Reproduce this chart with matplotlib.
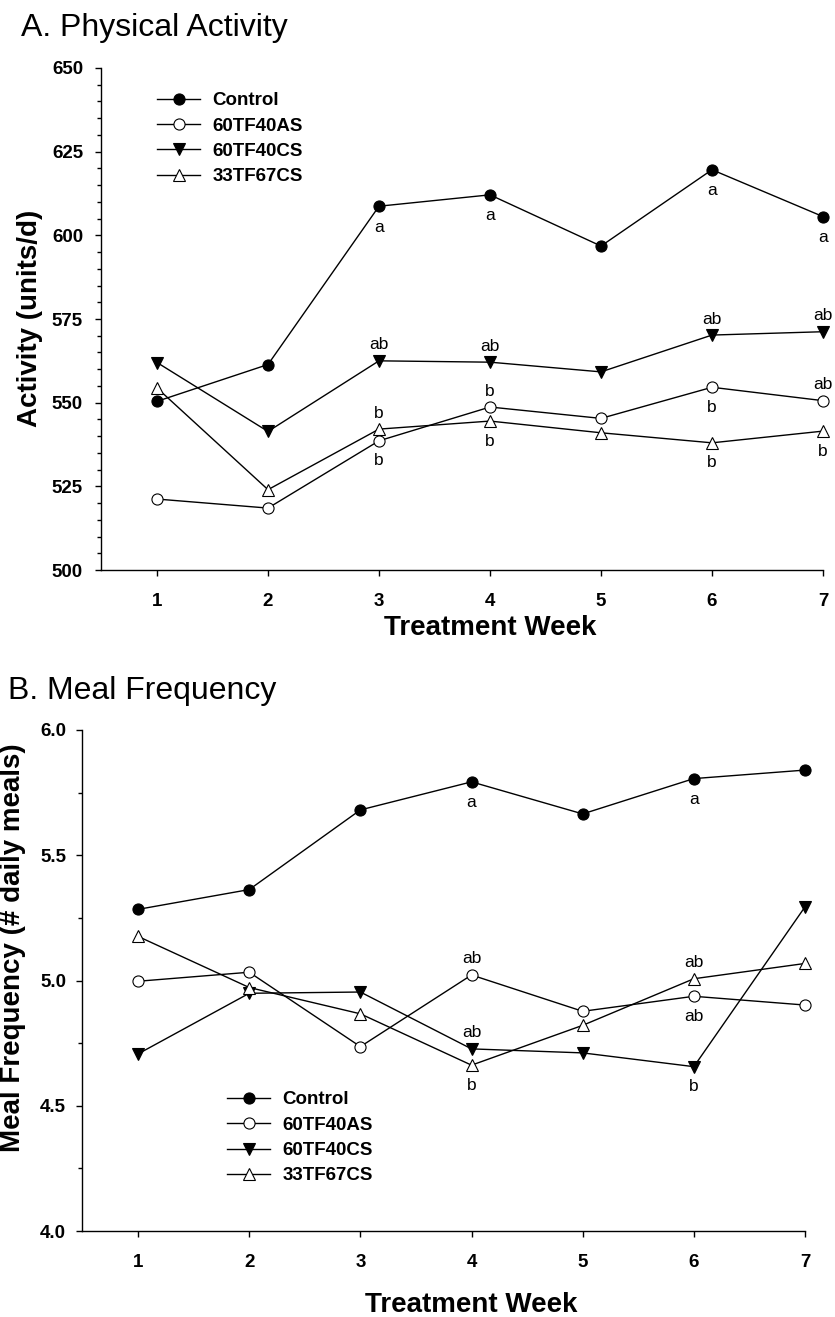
"""
Weekly physical activity and meal frequency by diet group, two stacked panels.
"""

import matplotlib.pyplot as plt
from matplotlib.ticker import MultipleLocator, FormatStrFormatter
from matplotlib.transforms import blended_transform_factory

weeks = [1, 2, 3, 4, 5, 6, 7]
groups = ['Control', '60TF40AS', '60TF40CS', '33TF67CS']

# Panel A - physical activity (units/d)
activity_control = [550.4, 561.4, 608.7, 612.1, 596.8, 619.6, 605.6]
activity_60tf40as = [521.2, 518.5, 538.6, 548.7, 545.3, 554.6, 550.6]
activity_60tf40cs = [562.0, 541.4, 562.5, 562.1, 559.2, 570.2, 571.2]
activity_33tf67cs = [554.4, 524.0, 542.1, 544.5, 541.0, 538.0, 541.5]

# Panel B - meal frequency (# daily meals)
meals_control = [5.284, 5.363, 5.681, 5.793, 5.665, 5.806, 5.840]
meals_60tf40as = [4.997, 5.033, 4.736, 5.022, 4.877, 4.937, 4.902]
meals_60tf40cs = [4.707, 4.949, 4.954, 4.727, 4.711, 4.656, 5.294]
meals_33tf67cs = [5.176, 4.972, 4.867, 4.662, 4.821, 5.007, 5.068]

# Significance letters: (week, group, letter, above/below the point)
activity_letters = [
    (3, 'Control', 'a', 'below'), (3, '60TF40CS', 'ab', 'above'),
    (3, '33TF67CS', 'b', 'above'), (3, '60TF40AS', 'b', 'below'),
    (4, 'Control', 'a', 'below'), (4, '60TF40CS', 'ab', 'above'),
    (4, '60TF40AS', 'b', 'above'), (4, '33TF67CS', 'b', 'below'),
    (6, 'Control', 'a', 'below'), (6, '60TF40CS', 'ab', 'above'),
    (6, '60TF40AS', 'b', 'below'), (6, '33TF67CS', 'b', 'below'),
    (7, 'Control', 'a', 'below'), (7, '60TF40CS', 'ab', 'above'),
    (7, '60TF40AS', 'ab', 'above'), (7, '33TF67CS', 'b', 'below'),
]
meals_letters = [
    (4, 'Control', 'a', 'below'), (4, '60TF40AS', 'ab', 'above'),
    (4, '60TF40CS', 'ab', 'above'), (4, '33TF67CS', 'b', 'below'),
    (6, 'Control', 'a', 'below'), (6, '33TF67CS', 'ab', 'above'),
    (6, '60TF40AS', 'ab', 'below'), (6, '60TF40CS', 'b', 'below'),
]

# marker, face colour, size for each group
styles = {
    'Control': ('o', 'black', 8),
    '60TF40AS': ('o', 'white', 8),
    '60TF40CS': ('v', 'black', 9),
    '33TF67CS': ('^', 'white', 9),
}

plt.rcParams['font.family'] = ['Liberation Sans', 'DejaVu Sans']


def draw_panel(ax, series, letters, ylim, major, minor, ylabel, ylabel_xy,
               xlabel_y, legend_xy, ypad):
    for name in groups:
        marker, face, size = styles[name]
        ax.plot(weeks, series[name], color='black', lw=1.0, marker=marker,
                markersize=size, markerfacecolor=face, markeredgecolor='black',
                markeredgewidth=0.8, label=name, clip_on=False, zorder=3)

    # letters sit a fixed pixel distance above or below their point
    for week, name, letter, where in letters:
        value = series[name][weeks.index(week)]
        if where == 'above':
            dy = 16
        else:
            dy = -21 if letter == 'a' else -20
        ax.annotate(letter, xy=(week, value), xytext=(0, dy),
                    textcoords='offset pixels', ha='center', va='center',
                    fontsize=12.5)

    ax.set_xlim(0.4955, 7)
    ax.set_ylim(*ylim)
    ax.set_xticks(weeks)
    ax.yaxis.set_major_locator(MultipleLocator(major))
    ax.yaxis.set_minor_locator(MultipleLocator(minor))
    ax.spines['top'].set_visible(False)
    ax.spines['right'].set_visible(False)
    for side in ['left', 'bottom']:
        ax.spines[side].set_linewidth(1.0)

    ax.tick_params(which='major', direction='out', length=4.3, width=1.0,
                   labelsize=13.5)
    ax.tick_params(axis='x', which='major', pad=12)
    ax.tick_params(axis='y', which='major', pad=ypad)
    ax.tick_params(axis='y', which='minor', direction='out', length=2.9,
                   width=1.0)
    for lbl in ax.get_xticklabels() + ax.get_yticklabels():
        lbl.set_fontweight('bold')

    ax.set_xlabel('Treatment Week', fontsize=20, fontweight='bold')
    ax.xaxis.set_label_coords(4, xlabel_y,
                              transform=blended_transform_factory(ax.transData, ax.transAxes))
    ax.xaxis.label.set_va('center')
    ax.set_ylabel(ylabel, fontsize=20, fontweight='bold')
    ax.yaxis.set_label_coords(*ylabel_xy)
    ax.yaxis.label.set_va('center')

    ax.legend(loc='upper left', bbox_to_anchor=legend_xy, frameon=False,
              prop={'weight': 'bold', 'size': 13.5}, handlelength=2.3,
              handletextpad=0.65, labelspacing=0.44, borderpad=0,
              borderaxespad=0)


fig = plt.figure(figsize=(8.35, 13.17), dpi=100)

ax_a = fig.add_axes([101 / 835, 1 - 570 / 1317, 722 / 835, 502 / 1317])
activity = dict(zip(groups, [activity_control, activity_60tf40as,
                             activity_60tf40cs, activity_33tf67cs]))
draw_panel(ax_a, activity, activity_letters, (500, 650), 25, 5,
           'Activity (units/d)', (-0.0983, 0.502), -0.1155, (0.0776, 0.952), 8.6)

ax_b = fig.add_axes([82 / 835, 1 - 1231 / 1317, 723 / 835, 501 / 1317])
meals = dict(zip(groups, [meals_control, meals_60tf40as,
                          meals_60tf40cs, meals_33tf67cs]))
draw_panel(ax_b, meals, meals_letters, (4.0, 6.0), 0.5, 0.25,
           'Meal Frequency (# daily meals)', (-0.0954, 0.565), -0.148,
           (0.2006, 0.279), 7.2)
ax_b.yaxis.set_major_formatter(FormatStrFormatter('%.1f'))
for lbl in ax_b.get_yticklabels():
    lbl.set_fontweight('bold')

fig.text(21 / 835, 1 - 36 / 1317, 'A. Physical Activity', fontsize=23,
         va='baseline', ha='left')
fig.text(8 / 835, 1 - 699 / 1317, 'B. Meal Frequency', fontsize=23,
         va='baseline', ha='left')

fig.savefig('out.png', dpi=100)
